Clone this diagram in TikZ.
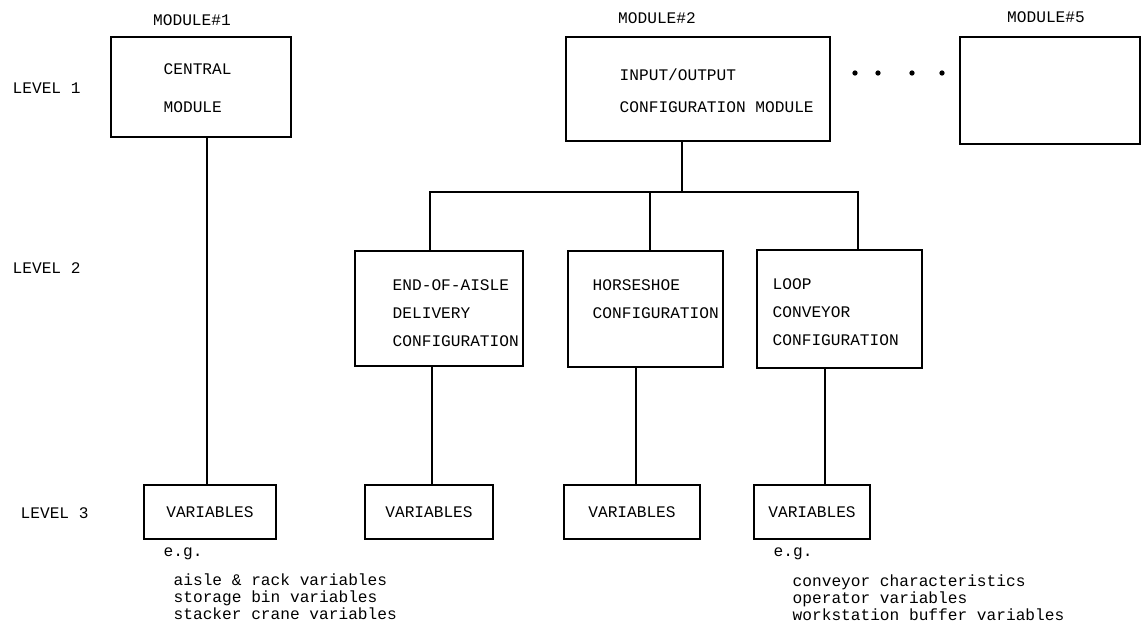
\documentclass[tikz,border=0pt]{standalone}
\usepackage{fontspec}
\setmonofont{Liberation Mono}
\usepackage{tikz}

\begin{document}
\begin{tikzpicture}[x=0.02cm, y=-0.02cm, line width=0.8pt,
  modbox/.style={draw, inner sep=0pt},
  typed/.style={font=\ttfamily\fontsize{9.2}{11}\selectfont, inner sep=0pt},
  typedlist/.style={font=\ttfamily\fontsize{9.2}{9.7}\selectfont, inner sep=0pt, align=left, anchor=west},
  dot/.style={circle, fill, inner sep=0pt, minimum size=3pt}]
\useasboundingbox (0,0) rectangle (1142,629);

\node[typed] (m1) at (192,20) {MODULE\#1};
\node[typed] (m2) at (657,18) {MODULE\#2};
\node[typed] (m5) at (1046,17) {MODULE\#5};

\node[typed, anchor=west] (l1) at (12,88) {LEVEL 1};
\node[typed, anchor=west] (l2) at (12,268) {LEVEL 2};
\node[typed, anchor=west] (l3) at (20,513) {LEVEL 3};

% level 1
\node[modbox, minimum width=3.6cm, minimum height=2cm] (11) at (201,87) {};
\node[typed, anchor=west, align=left] (11t) at (163,88) {CENTRAL\\[10.6pt]MODULE};

\node[modbox, minimum width=5.28cm, minimum height=2.08cm] (12) at (698,89) {};
\node[typed, anchor=west, align=left] (12t) at (619,91) {INPUT/OUTPUT\\[7.2pt]CONFIGURATION MODULE};

\node[dot] (d51) at (855,73) {};
\node[dot] (d52) at (878,73) {};
\node[dot] (d53) at (912,73) {};
\node[dot] (d54) at (942,73) {};

\node[modbox, minimum width=3.6cm, minimum height=2.14cm] (15) at (1050,90.5) {};

% level 2
\node[modbox, minimum width=3.36cm, minimum height=2.3cm] (21) at (439,308.5) {};
\node[typed, anchor=west, align=left] (21t) at (392,313) {END-OF-AISLE\\[4.9pt]DELIVERY\\[4.9pt]CONFIGURATION};

\node[modbox, minimum width=3.1cm, minimum height=2.32cm] (22) at (645.5,309) {};
\node[typed, anchor=west, align=left] (22t) at (592,299) {HORSESHOE\\[4.9pt]CONFIGURATION};

\node[modbox, minimum width=3.3cm, minimum height=2.36cm] (23) at (839.5,309) {};
\node[typed, anchor=west, align=left] (23t) at (772,312) {LOOP\\[4.9pt]CONVEYOR\\[4.9pt]CONFIGURATION};

% level 3
\node[modbox, typed, minimum width=2.64cm, minimum height=1.08cm] (31) at (210,512) {VARIABLES};
\node[modbox, typed, minimum width=2.56cm, minimum height=1.08cm] (32) at (429,512) {VARIABLES};
\node[modbox, typed, minimum width=2.72cm, minimum height=1.08cm] (33) at (632,512) {VARIABLES};
\node[modbox, typed, minimum width=2.32cm, minimum height=1.08cm] (34) at (812,512) {VARIABLES};

\node[typed, anchor=west] (eg1) at (163,554) {e.g.};
\node[typedlist] (ex1) at (173,597) {aisle \& rack variables\\storage bin variables\\stacker crane variables};
\node[typed, anchor=west] (eg4) at (773,554) {e.g.};
\node[typedlist] (ex4) at (792,598) {conveyor characteristics\\operator variables\\workstation buffer variables};

% connectors
\coordinate (bus) at (682,192);
\coordinate (b1) at (430,192);
\coordinate (b2) at (650,192);
\coordinate (b3) at (858,192);
\coordinate (s1) at (207,0);
\coordinate (s2) at (432,0);
\coordinate (s3) at (636,0);
\coordinate (s4) at (825,0);

\draw (12.south -| bus) -- (bus);
\draw (21.north -| b1) -- (b1) -- (b3) -- (23.north -| b3);
\draw (22.north -| b2) -- (b2);

\draw (11.south -| s1) -- (31.north -| s1);
\draw (21.south -| s2) -- (32.north -| s2);
\draw (22.south -| s3) -- (33.north -| s3);
\draw (23.south -| s4) -- (34.north -| s4);
\end{tikzpicture}
\end{document}
